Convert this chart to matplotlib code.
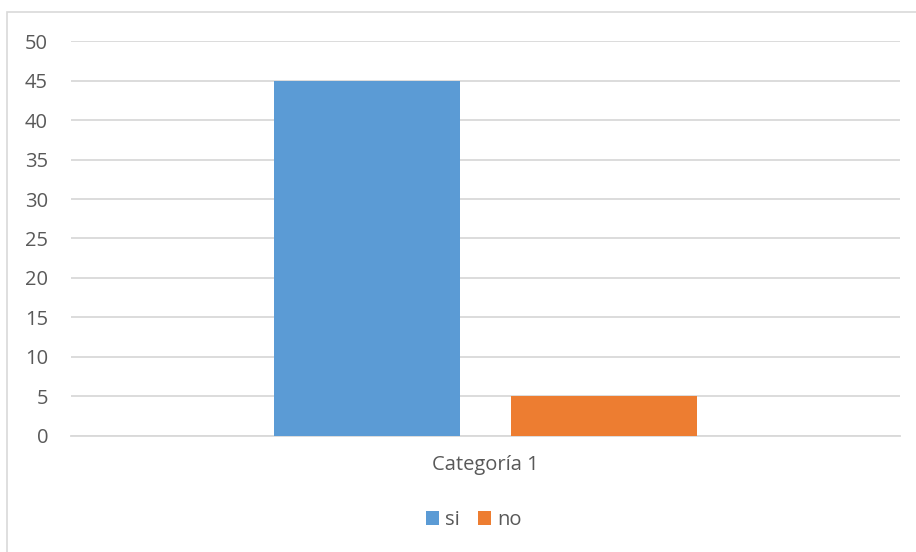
import matplotlib.pyplot as plt
from matplotlib.patches import Rectangle

categories = ['Categoría 1']
series_names = ['si', 'no']
si_values = [45]
no_values = [5]
y_ticks = [0, 5, 10, 15, 20, 25, 30, 35, 40, 45, 50]

colors = ['#5B9BD5', '#ED7D31']
text_color = '#595959'
grid_color = '#D9D9D9'

plt.rcParams['font.family'] = ['Open Sans', 'DejaVu Sans']

fig = plt.figure(figsize=(9.16, 5.52), dpi=100)
ax = fig.add_axes([0.0775, 0.211, 0.905, 0.714])

x = list(range(len(categories)))
width = 0.225
offset = 0.143
ax.bar([i - offset for i in x], si_values, width, color=colors[0], label=series_names[0], zorder=3)
ax.bar([i + offset for i in x], no_values, width, color=colors[1], label=series_names[1], zorder=3)

ax.set_xlim(-0.5, len(categories) - 0.5)
ax.set_ylim(0, 50)
ax.set_yticks(y_ticks)
ax.set_xticks(x)
ax.set_xticklabels(categories)
ax.tick_params(axis='both', length=0, labelsize=14.5, colors=text_color)
ax.tick_params(axis='y', pad=16.5)
ax.tick_params(axis='x', pad=14)
for lbl in ax.get_yticklabels():
    lbl.set_horizontalalignment('right')

ax.yaxis.grid(True, color=grid_color, linewidth=1.3, zorder=0)
for s in ['top', 'right', 'left']:
    ax.spines[s].set_visible(False)
ax.spines['bottom'].set_color(grid_color)
ax.spines['bottom'].set_linewidth(1.3)

leg = fig.legend(loc='center', bbox_to_anchor=(0.517, 0.058), ncol=2, frameon=False,
                 fontsize=14.5, handlelength=0.65, handleheight=0.65, handletextpad=0.3,
                 columnspacing=0.9)
for t in leg.get_texts():
    t.set_color(text_color)

# chart area border
fig.patches.append(Rectangle((7 / 916, -0.01), 1.0, 1 - 12 / 552 + 0.01, transform=fig.transFigure,
                             fill=False, edgecolor='#D9D9D9', linewidth=1.2))

fig.savefig('out.png', dpi=100)
